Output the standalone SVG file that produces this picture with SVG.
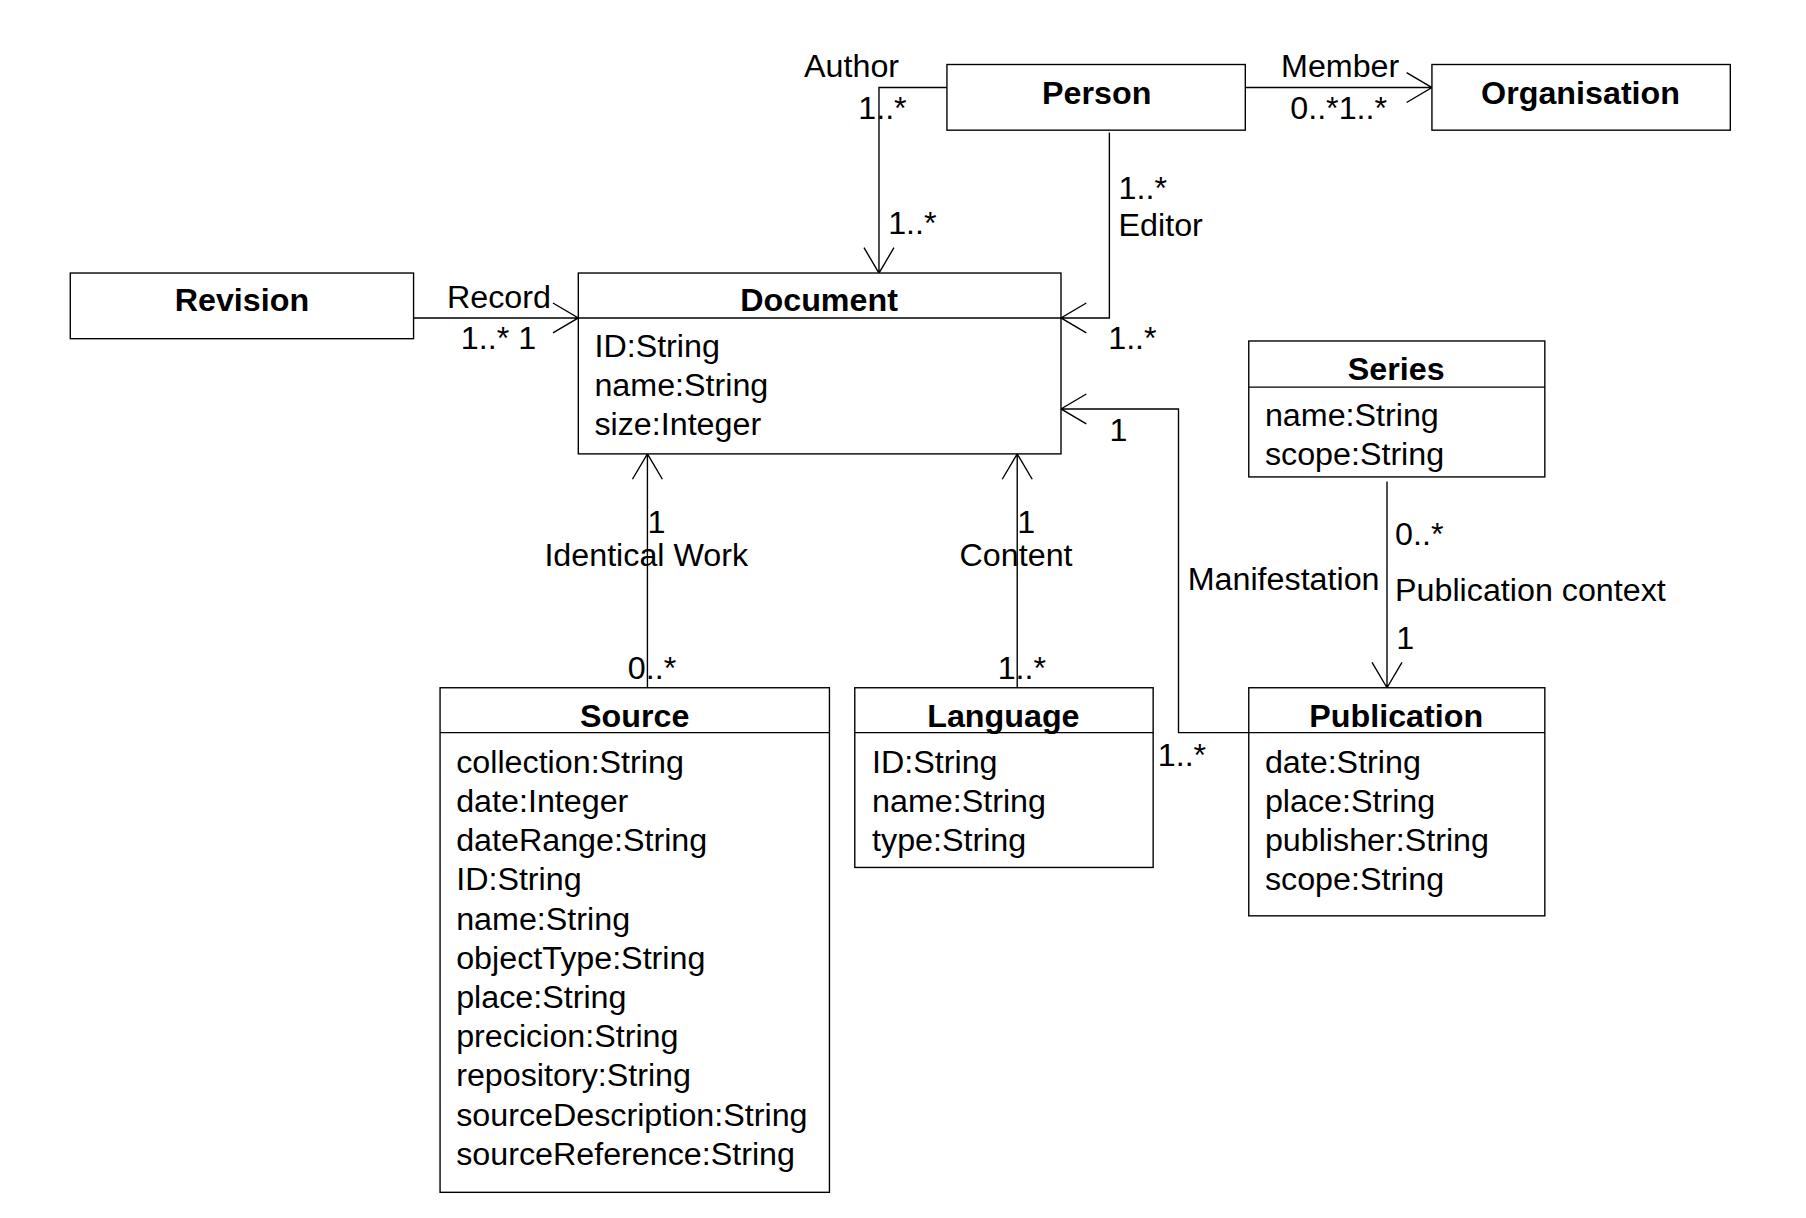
<svg xmlns="http://www.w3.org/2000/svg" width="1806" height="1218" viewBox="0 0 1806 1218">
<style>
.b{fill:#fff;stroke:#000;stroke-width:1.2}
.l{stroke:#000;stroke-width:1.2;fill:none}
text{font-family:"Liberation Sans",Arial,sans-serif;font-size:28px;fill:#000}
.t{font-weight:bold;text-anchor:middle}
.c{text-anchor:middle}
</style>
<rect width="1806" height="1218" fill="#fff"/>
<g transform="scale(1.152)">
<g id="connectors">
<path class="l" d="M822,76H763V237M750,215L763,237L776,215"/>
<path class="l" d="M963,115V276H921M943,263L921,276L943,289"/>
<path class="l" d="M1081,76H1243M1221,63L1243,76L1221,89"/>
<path class="l" d="M359,276H502M480,263L502,276L480,289"/>
<path class="l" d="M562,597V394M549,416L562,394L575,416"/>
<path class="l" d="M883,597V394M870,416L883,394L896,416"/>
<path class="l" d="M1084,636H1023V355H921M943,342L921,355L943,368"/>
<path class="l" d="M1204,418V597M1191,575L1204,597L1217,575"/>
<text x="698" y="67">Author</text>
<text x="745" y="103">1..*</text>
<text x="771" y="203">1..*</text>
<text x="971" y="173">1..*</text>
<text x="971" y="205">Editor</text>
<text x="962" y="303">1..*</text>
<text x="1112" y="67">Member</text>
<text x="1120" y="103">0..*1..*</text>
<text x="388" y="267">Record</text>
<text x="400" y="303">1..*  1</text>
<text x="562" y="463">1</text>
<text class="c" x="561" y="491">Identical Work</text>
<text x="545" y="589">0..*</text>
<text x="883" y="463">1</text>
<text class="c" x="882" y="491">Content</text>
<text x="866" y="589">1..*</text>
<text x="963" y="383">1</text>
<text x="1031" y="512">Manifestation</text>
<text x="1005" y="665">1..*</text>
<text x="1211" y="473">0..*</text>
<text x="1211" y="522">Publication context</text>
<text x="1212" y="563">1</text>
</g>
<g id="person"><rect class="b" x="822" y="56" width="259" height="57"/><text class="t" x="952" y="90">Person</text></g>
<g id="organisation"><rect class="b" x="1243" y="56" width="259" height="57"/><text class="t" x="1372" y="90">Organisation</text></g>
<g id="revision"><rect class="b" x="61" y="237" width="298" height="57"/><text class="t" x="210" y="270">Revision</text></g>
<g id="document"><rect class="b" x="502" y="237" width="419" height="157"/><path class="l" d="M502,276H921"/><text class="t" x="711" y="270">Document</text>
<text x="516" y="310">ID:String</text><text x="516" y="344">name:String</text><text x="516" y="378">size:Integer</text></g>
<g id="series"><rect class="b" x="1084" y="296" width="257" height="118"/><path class="l" d="M1084,336H1341"/><text class="t" x="1212" y="330">Series</text>
<text x="1098" y="370">name:String</text><text x="1098" y="404">scope:String</text></g>
<g id="source"><rect class="b" x="382" y="597" width="338" height="438"/><path class="l" d="M382,636H720"/><text class="t" x="551" y="631">Source</text>
<text x="396" y="671">collection:String</text><text x="396" y="705">date:Integer</text><text x="396" y="739">dateRange:String</text><text x="396" y="773">ID:String</text><text x="396" y="807">name:String</text><text x="396" y="841">objectType:String</text><text x="396" y="875">place:String</text><text x="396" y="909">precicion:String</text><text x="396" y="943">repository:String</text><text x="396" y="977">sourceDescription:String</text><text x="396" y="1011">sourceReference:String</text></g>
<g id="language"><rect class="b" x="742" y="597" width="259" height="156"/><path class="l" d="M742,636H1001"/><text class="t" x="871" y="631">Language</text>
<text x="757" y="671">ID:String</text><text x="757" y="705">name:String</text><text x="757" y="739">type:String</text></g>
<g id="publication"><rect class="b" x="1084" y="597" width="257" height="198"/><path class="l" d="M1084,636H1341"/><text class="t" x="1212" y="631">Publication</text>
<text x="1098" y="671">date:String</text><text x="1098" y="705">place:String</text><text x="1098" y="739">publisher:String</text><text x="1098" y="773">scope:String</text></g>
</g>
</svg>
